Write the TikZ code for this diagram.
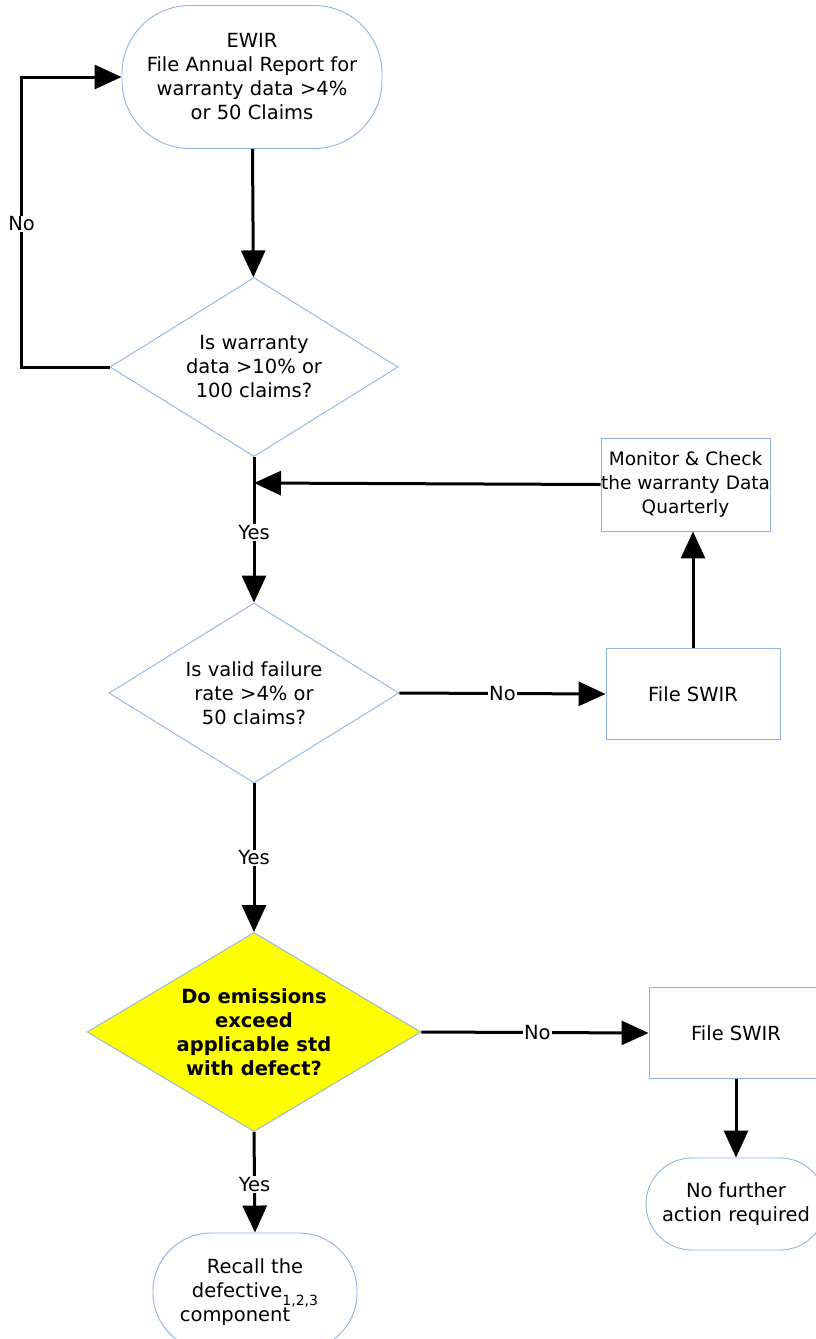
\documentclass[tikz,border=0pt]{standalone}
\usepackage{fontspec}
\setmainfont{DejaVu Sans}
\usetikzlibrary{shapes.geometric, arrows.meta, positioning}
\definecolor{edgeblue}{RGB}{141,179,226}
\definecolor{warnyellow}{RGB}{255,255,0}

\begin{document}
\begin{tikzpicture}[
    x=1pt, y=-1pt,
    txt/.style={font=\fontsize{19.5}{24}\selectfont},
    term/.style={txt, rectangle, draw=edgeblue, line width=0.9pt, rounded corners=68pt, align=center, inner sep=0pt},
    procbox/.style={txt, rectangle, draw=edgeblue, line width=0.9pt, align=center, inner sep=0pt, minimum width=174pt, minimum height=91pt},
    decision/.style={txt, diamond, draw=edgeblue, line width=0.9pt, align=center, inner sep=0pt},
    arr/.style={-{Triangle[length=27pt, width=24pt]}, line width=3pt, color=black},
    lbl/.style={txt, fill=white, inner sep=1pt}
]
\useasboundingbox (0,0) rectangle (815,1339);

\node[term, minimum width=260pt, minimum height=143pt] (ewir) at (252,77) {EWIR\\File Annual Report for\\warranty data >4\%\\or 50 Claims};
\node[decision, minimum width=288pt, minimum height=179pt, shape aspect=1.61] (chk_warr) at (254,367) {Is warranty\\data >10\% or\\100 claims?};
\node[decision, minimum width=290pt, minimum height=180pt, shape aspect=1.61] (chk_fail) at (254,693) {Is valid failure\\rate >4\% or\\50 claims?};
\node[decision, fill=warnyellow, minimum width=334pt, minimum height=199pt, shape aspect=1.68, font=\fontsize{19.5}{24}\selectfont\bfseries] (chk_emis) at (254,1032) {Do emissions\\exceed\\applicable std\\with defect?};
\node[term, minimum width=204pt, minimum height=118pt, rounded corners=58pt] (recall) at (255,1292) {Recall the\\defective\raisebox{-8pt}{\fontsize{14}{14}\selectfont 1,2,3}\\component\hspace*{40pt}};

\node[procbox, minimum width=165pt, minimum height=93pt, font=\fontsize{18.5}{24}\selectfont] (monitor) at (685.5,484.5) {Monitor \& Check\\the warranty Data\\Quarterly};
\node[procbox] (swir_a) at (693,694) {File SWIR};
\node[procbox] (swir_b) at (736,1033) {File SWIR};
\node[term, minimum width=180pt, minimum height=92pt, rounded corners=46pt] (nofurther) at (736,1204) {No further\\action required};

\coordinate (join) at (254,483);

\draw[arr] (ewir) -- (chk_warr);
\draw[arr] (chk_warr.west) -- ++(-88,0) |- node[lbl, pos=0.247] {No} (ewir.west);
\draw[arr] (chk_warr.south) -- node[lbl, pos=0.52] {Yes} (chk_fail.north);
\draw[arr] (monitor.west) -- (join);
\draw[arr] (chk_fail.east) -- node[lbl, pos=0.5] {No} (swir_a.west);
\draw[arr] (swir_a.north) -- (swir_a.north |- monitor.south);
\draw[arr] (chk_fail.south) -- node[lbl, pos=0.5] {Yes} (chk_emis.north);
\draw[arr] (chk_emis.east) -- node[lbl, pos=0.51] {No} (swir_b.west);
\draw[arr] (swir_b) -- (nofurther);
\draw[arr] (chk_emis.south) -- node[lbl, pos=0.52] {Yes} (recall.north);

\end{tikzpicture}
\end{document}
